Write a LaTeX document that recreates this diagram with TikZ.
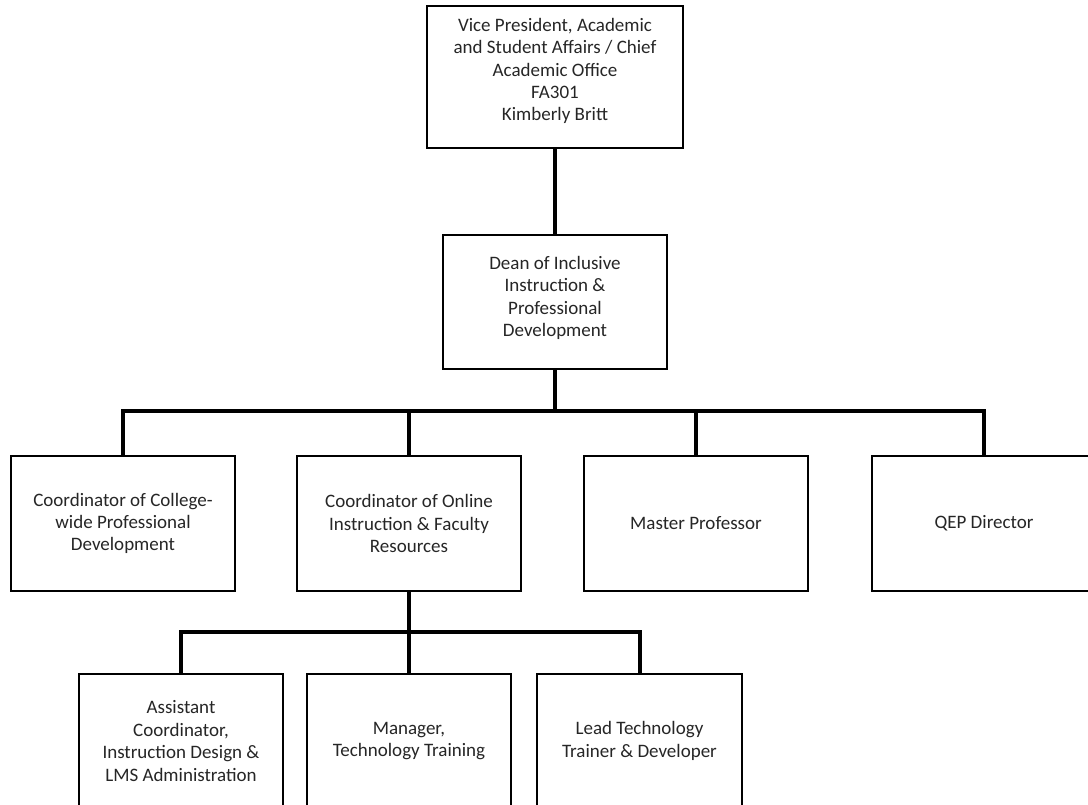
\documentclass[tikz,border=0pt]{standalone}
\usepackage{fontspec}
\setmainfont{Carlito}
\begin{document}
\begin{tikzpicture}[x=1pt,y=1pt,
  box/.style={draw=black, line width=1.6pt, fill=white, inner sep=0pt, align=center,
    font=\fontsize{19}{22.4}\selectfont, text=black!85},
  conn/.style={line width=4pt, line cap=rect}]
\useasboundingbox (0,0) rectangle (1088,-805);
\clip (0,0) rectangle (1088,-805);
\fill[white] (0,0) rectangle (1088,-805);
\coordinate (b1) at (555,-411);
\coordinate (b2) at (409,-632);
\node[box, minimum width=256, minimum height=142] (vp) at (555,-77) {};
\node[align=center, font=\fontsize{19}{22.4}\selectfont, text=black!85] (vpt) at (555,-71)
  {Vice President, Academic\\and Student Affairs / Chief\\Academic Office\\FA301\\Kimberly Britt};
\node[box, minimum width=224, minimum height=134] (dean) at (555,-302) {};
\node[align=center, font=\fontsize{19}{22.4}\selectfont, text=black!85] (deant) at (555,-298)
  {Dean of Inclusive\\Instruction \&\\Professional\\Development};
\node[box, minimum width=224, minimum height=135] (c1) at (123,-523.5)
  {Coordinator of College-\\wide Professional\\Development};
\node[box, minimum width=224, minimum height=135] (c2) at (409,-523.5)
  {Coordinator of Online\\Instruction \& Faculty\\Resources};
\node[box, minimum width=224, minimum height=135] (c3) at (696,-523.5)
  {Master Professor};
\node[box, minimum width=224, minimum height=135] (c4) at (984,-523.5)
  {QEP Director};
\node[box, minimum width=204, minimum height=134] (a1) at (181,-741)
  {Assistant\\Coordinator,\\Instruction Design \&\\LMS Administration};
\node[box, minimum width=204, minimum height=134] (a2) at (409,-741)
  {Manager,\\Technology Training};
\node[box, minimum width=205, minimum height=134] (a3) at (639.5,-741)
  {Lead Technology\\Trainer \& Developer};
\draw[conn] (vp.south) -- (dean.north);
\draw[conn] (dean.south) -- (b1);
\draw[conn, line cap=butt, line join=miter] (c1.north) |- (b1) -| (c4.north);
\draw[conn, line cap=butt] (c2.north) -- (c2.north |- b1);
\draw[conn, line cap=butt] (c3.north) -- (c3.north |- b1);
\draw[conn, line cap=butt] (c2.south) -- (b2);
\draw[conn, line cap=butt, line join=miter] (a1.north) |- (b2) -| (a3.north);
\draw[conn, line cap=butt] (a2.north) -- (b2);
\end{tikzpicture}
\end{document}
